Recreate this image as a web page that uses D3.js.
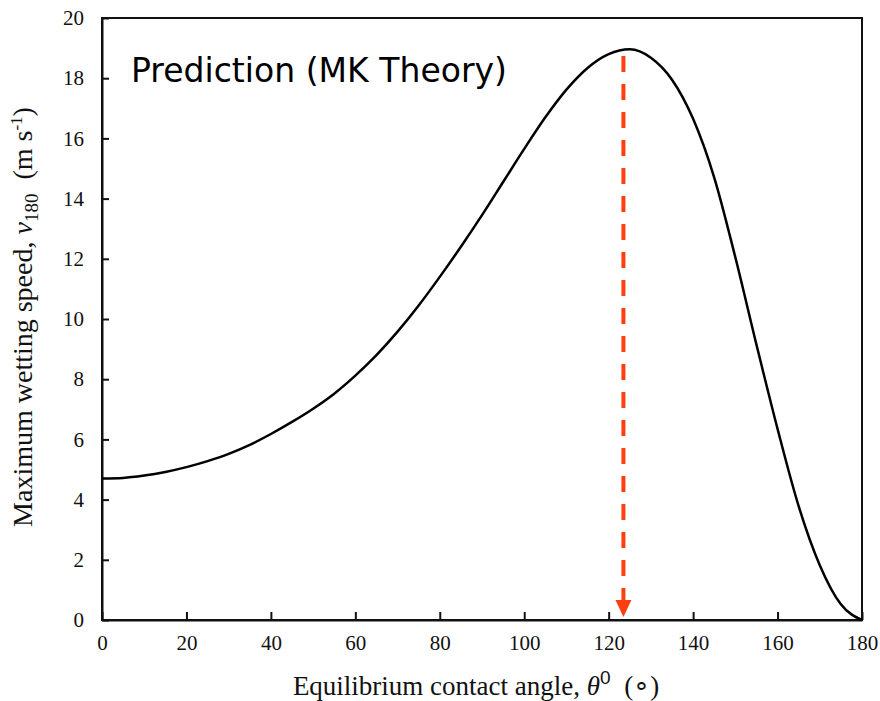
<!DOCTYPE html>
<html>
<head>
<meta charset="utf-8">
<script src="https://cdn.jsdelivr.net/npm/d3@7"></script>
<style>
  body { margin: 0; background: #fff; }
  .tick text { font-family: "Liberation Serif", "Times New Roman", serif; font-size: 21px; fill: #111; }
  .tick line, .domain { stroke: #111; stroke-width: 2px; }
</style>
</head>
<body>
<div id="chart"></div>
<script>
// contact angle (deg) and predicted max wetting speed (m/s)
const angles = [0, 5, 10, 15, 20, 25, 30, 35, 40, 45, 50, 55, 60, 65, 70, 75, 80, 85, 90,
                95, 100, 105, 110, 115, 120, 125, 130, 135, 140, 145, 150, 155, 160, 165, 170, 175, 180]
const speeds = [4.70, 4.72, 4.80, 4.92, 5.08, 5.28, 5.52, 5.82, 6.18, 6.58, 7.02, 7.52, 8.12, 8.80, 9.58,
                10.45, 11.40, 12.40, 13.45, 14.55, 15.65, 16.70, 17.62, 18.34, 18.80, 18.96, 18.68, 17.95,
                16.65, 14.70, 12.05, 9.15, 6.35, 3.78, 1.82, 0.52, 0]

const xTicks = [0, 20, 40, 60, 80, 100, 120, 140, 160, 180]
const yTicks = [0, 2, 4, 6, 8, 10, 12, 14, 16, 18, 20]

// red arrow marking the angle of the maximum
const peakAngle = 123.5
const arrowTop = 18.74
const arrowTip = 0.1

const width = 880, height = 701
const mLeft = 102, mRight = 862, mTop = 18, mBottom = 620

var svg = d3.select("#chart").append("svg")
    .attr("width", width)
    .attr("height", height)
    .style("background", "#fff")

const x = d3.scaleLinear().domain([0, 180]).range([mLeft, mRight])
const y = d3.scaleLinear().domain([0, 20]).range([mBottom, mTop])

// frame
svg.append("rect")
    .attr("x", mLeft).attr("y", mTop)
    .attr("width", mRight - mLeft).attr("height", mBottom - mTop)
    .attr("fill", "none")
    .attr("stroke", "#111")
    .attr("stroke-width", 2)

svg.append("g")
    .attr("transform", `translate(0, ${mBottom})`)
    .call(d3.axisBottom(x).tickValues(xTicks).tickSizeInner(-8).tickSizeOuter(0).tickPadding(15))

svg.append("g")
    .attr("transform", `translate(${mLeft}, 0)`)
    .call(d3.axisLeft(y).tickValues(yTicks).tickSizeInner(-7).tickSizeOuter(0).tickPadding(18))

// curve
const line = d3.line()
    .x((d, i) => x(angles[i]))
    .y(d => y(d))
    .curve(d3.curveMonotoneX)

svg.append("path")
    .datum(speeds)
    .attr("fill", "none")
    .attr("stroke", "#000")
    .attr("stroke-width", 2.5)
    .attr("d", line)

// dashed arrow
const red = "#ff3f0f"
const ax = x(peakAngle)
const headLen = 17, headW = 8
svg.append("line")
    .attr("x1", ax).attr("x2", ax)
    .attr("y1", y(arrowTop)).attr("y2", y(arrowTip) - headLen + 1)
    .attr("stroke", red)
    .attr("stroke-width", 4)
    .attr("stroke-dasharray", "16,12")

svg.append("path")
    .attr("d", `M${ax - headW},${y(arrowTip) - headLen} L${ax + headW},${y(arrowTip) - headLen} L${ax},${y(arrowTip)} Z`)
    .attr("fill", red)

// annotation
svg.append("text")
    .attr("x", 131)
    .attr("y", 82)
    .attr("textLength", 376)
    .attr("lengthAdjust", "spacingAndGlyphs")
    .style("font-family", "'DejaVu Sans', Verdana, sans-serif")
    .style("font-size", "34px")
    .style("fill", "#000")
    .text("Prediction (MK Theory)")

// x label
const xl = svg.append("text")
    .attr("x", (mLeft + mRight) / 2 - 6)
    .attr("y", 695)
    .attr("text-anchor", "middle")
    .style("font-family", "'Liberation Serif', 'Times New Roman', serif")
    .style("font-size", "27px")
    .style("fill", "#111")
xl.append("tspan").text("Equilibrium contact angle, ")
xl.append("tspan").style("font-style", "italic").text("θ")
xl.append("tspan").attr("dy", -11).style("font-family", "'Liberation Sans', Arial, sans-serif").style("font-size", "19px").text("0")
xl.append("tspan").attr("dy", 11).text("\u00a0 (\u2218)")

// y label
const yl = svg.append("text")
    .attr("transform", `translate(32, ${(mTop + mBottom) / 2 - 2}) rotate(-90)`)
    .attr("text-anchor", "middle")
    .style("font-family", "'Liberation Serif', 'Times New Roman', serif")
    .style("font-size", "28px")
    .style("fill", "#111")
yl.append("tspan").text("Maximum wetting speed, ")
yl.append("tspan").style("font-style", "italic").text("v")
yl.append("tspan").attr("dy", 6).style("font-size", "19px").text("180")
yl.append("tspan").attr("dy", -6).text("\u00a0 (m s")
yl.append("tspan").attr("dy", -10).style("font-size", "17px").text("-1")
yl.append("tspan").attr("dy", 10).text(")")
</script>
</body>
</html>
